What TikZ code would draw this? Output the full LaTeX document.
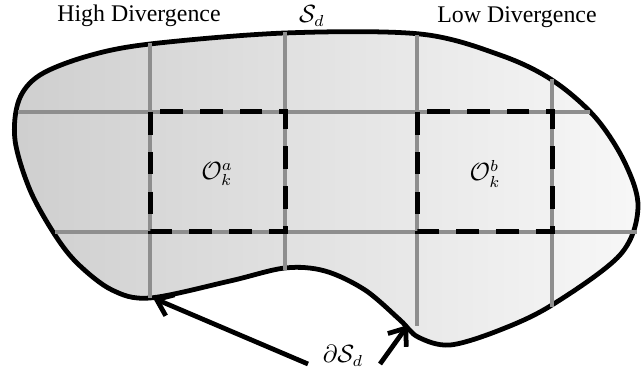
\documentclass[tikz,border=0pt]{standalone}
\usepackage{fontspec}
\setmainfont{Liberation Serif}
\usetikzlibrary{arrows.meta}
\definecolor{gridgray}{HTML}{8E8E8E}

\begin{document}
\begin{tikzpicture}[
  x=0.44pt, y=-0.44pt,
  font=\fontsize{10.5}{12}\selectfont,
  boundary/.style={draw=black, line width=2.1pt, left color=black!19, right color=black!3},
  gridline/.style={draw=gridgray, line width=1.7pt},
  cell/.style={draw=black, line width=2.2pt, dash pattern=on 10pt off 7.5pt},
  arr/.style={-{Straight Barb[length=6.5pt,width=10pt]}, line width=2.1pt},
]
  \useasboundingbox (0,0) rectangle (641,375);

  % domain S_d
  \path[boundary] plot[smooth cycle, tension=0.55] coordinates {
    (88,56) (150,44) (285,33) (420,34) (500,55) (552,80) (595,117)
    (625,163) (638,208) (620,255) (552,305) (500,330) (450,345)
    (418,337) (400,320) (365,290) (325,271) (285,268) (230,281)
    (150,298) (112,290) (78,264) (55,235) (30,190) (15,140)
    (19,100) (40,75)};

  % partition
  \draw[gridline] (18,112) -- (590,112);
  \draw[gridline] (55,232) -- (637,232);
  \draw[gridline] (150,43) -- (150,298);
  \draw[gridline] (285,32) -- (285,270);
  \draw[gridline] (417,35) -- (417,326);
  \draw[gridline] (552,79) -- (552,307);

  % overlapping subdomains
  \draw[cell] (150,112) rectangle (285,232);
  \draw[cell] (417,112) rectangle (552,232);
  \node (Oa) at (217,174) {$\mathcal{O}_k^a$};
  \node (Ob) at (485,174) {$\mathcal{O}_k^b$};

  % labels
  \node (high) at (139,16) {High Divergence};
  \node (Sd) at (312,16) {$\mathcal{S}_d$};
  \node (low) at (517,17) {Low Divergence};
  \node (dS) at (343,356) {$\partial\mathcal{S}_d$};

  % pointers to the boundary
  \coordinate (tailA) at (308,364);
  \coordinate (tipA) at (153,298);
  \coordinate (tailB) at (380,364);
  \coordinate (tipB) at (408,325);
  \draw[arr] (tailA) -- (tipA);
  \draw[arr] (tailB) -- (tipB);
\end{tikzpicture}
\end{document}
